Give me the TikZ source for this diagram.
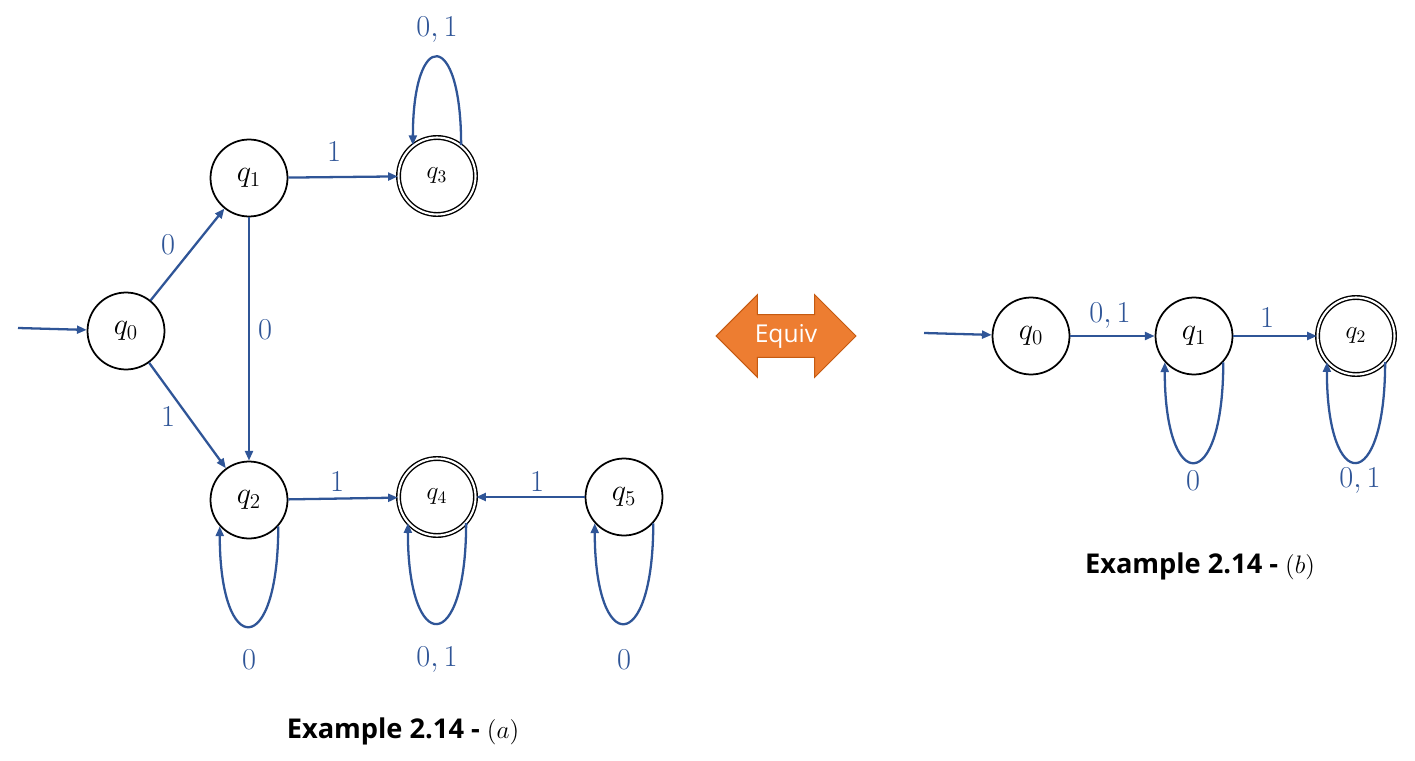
\documentclass[tikz,border=0pt]{standalone}
\usepackage{fontspec}
\usepackage{tikz}
\usetikzlibrary{arrows.meta, positioning, shapes.arrows}
\setsansfont{Open Sans}
\definecolor{edgeblue}{HTML}{2F5597}
\definecolor{equivfill}{HTML}{ED7D31}
\definecolor{equivline}{HTML}{C55A11}

\begin{document}
\begin{tikzpicture}[x=0.02cm, y=-0.02cm, >={Triangle[length=5.5pt, width=4.5pt]},
  state/.style={circle, draw, line width=1pt, minimum size=1.54cm, inner sep=0pt,
    font=\fontsize{17}{19}\selectfont},
  accept/.style={state, double, double distance=1.2pt, line width=0.8pt,
    font=\fontsize{14.5}{16}\selectfont},
  trans/.style={edgeblue, line width=1.3pt, ->},
  lbl/.style={edgeblue, font=\fontsize{16}{18}\selectfont},
  caption/.style={font=\sffamily\bfseries\fontsize{15.5}{18}\selectfont},
  equiv/.style={double arrow, double arrow head extend=0.4cm, minimum height=2.8cm,
    minimum width=1.6cm, inner xsep=0pt, inner ysep=5pt, fill=equivfill,
    draw=equivline, line width=0.6pt, text=white,
    font=\sffamily\fontsize{14}{16}\selectfont}]
  \useasboundingbox (0,0) rectangle (1415,760);

  % Automat (a)
  \node[state] (a0) at (126,331) {$q_0$};
  \node[state] (a1) at (249,178) {$q_1$};
  \node[accept] (a3) at (437,176) {$q_3$};
  \node[state] (a2) at (249,500) {$q_2$};
  \node[accept] (a4) at (437,497) {$q_4$};
  \node[state] (a5) at (624,497) {$q_5$};
  \coordinate (astart) at (18,328);

  \draw[trans] (astart) -- (a0);
  \draw[trans] (a0) -- (a1);
  \draw[trans] (a0) -- (a2);
  \draw[trans] (a1) -- (a3);
  \draw[trans] (a1) -- (a2);
  \draw[trans] (a2) -- (a4);
  \draw[trans] (a5) -- (a4);

  % smycky
  \draw[trans] (a3.52) .. controls +(0,-117) and +(0,-117) .. (a3.128);
  \foreach \s in {a2, a4, a5} {
    \draw[trans] (\s.-42) .. controls +(0,133) and +(0,133) .. (\s.-138);
  }

  % popisky prechodu
  \node[lbl] (ta01) at (168,245) {$0$};
  \node[lbl] (ta02) at (168,417) {$1$};
  \node[lbl] (ta12) at (265,330) {$0$};
  \node[lbl] (ta13) at (334,152) {$1$};
  \node[lbl] (ta24) at (337,482) {$1$};
  \node[lbl] (ta54) at (537,482) {$1$};
  \node[lbl] (ta33) at (437,30) {$0,1$};
  \node[lbl] (ta22) at (249,660) {$0$};
  \node[lbl] (ta44) at (437,660) {$0,1$};
  \node[lbl] (ta55) at (624,660) {$0$};
  \node[caption] (capa) at (403,731) {Example 2.14 - $(a)$};

  % Equiv
  \node[equiv] (eq) at (786,336) {Equiv};

  % Automat (b)
  \node[state] (b0) at (1031,336) {$q_0$};
  \node[state] (b1) at (1194,336) {$q_1$};
  \node[accept] (b2) at (1356,336) {$q_2$};
  \coordinate (bstart) at (924,333);

  \draw[trans] (bstart) -- (b0);
  \draw[trans] (b0) -- (b1);
  \draw[trans] (b1) -- (b2);
  \foreach \s in {b1, b2} {
    \draw[trans] (\s.-42) .. controls +(0,133) and +(0,133) .. (\s.-138);
  }

  \node[lbl] (tb01) at (1110,316) {$0,1$};
  \node[lbl] (tb12) at (1267,318) {$1$};
  \node[lbl] (tb11) at (1193,481) {$0$};
  \node[lbl] (tb22) at (1360,481) {$0,1$};
  \node[caption] (capb) at (1200,566) {Example 2.14 - $(b)$};
\end{tikzpicture}
\end{document}
